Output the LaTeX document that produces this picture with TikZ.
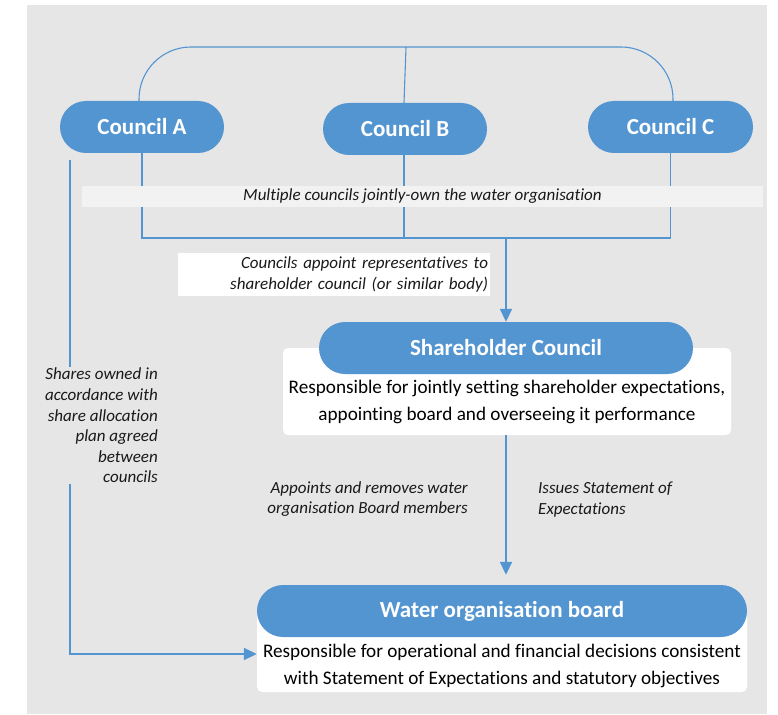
\documentclass[tikz,border=0pt]{standalone}
\usepackage{fontspec}
\setmainfont{Carlito}[RawFeature={-liga}]
\usetikzlibrary{arrows.meta}
\definecolor{cblue}{HTML}{5395D0}
\definecolor{bggrey}{HTML}{E6E6E6}
\definecolor{bannergrey}{HTML}{F2F2F2}
\begin{document}
\begin{tikzpicture}[x=1pt,y=-1pt,
  pill/.style={fill=cblue, text=white, font=\fontsize{23}{27}\selectfont\bfseries, rounded corners=26pt, minimum height=52pt, inner sep=0pt},
  conn/.style={draw=cblue, line width=1.8pt},
  thinconn/.style={draw=cblue, line width=1.1pt},
  arr/.style={conn, -{Triangle[length=13pt,width=12pt]}},
  lbl/.style={font=\fontsize{17}{20.6}\selectfont\itshape, text=black!90, inner sep=0pt},
  body/.style={font=\fontsize{19.2}{27}\selectfont, align=center, inner sep=0pt},
  whitebox/.style={fill=white, rounded corners=5pt, inner sep=0pt}]
\useasboundingbox (0,0) rectangle (778,714);
\fill[bggrey] (27,5) rectangle (767,714);

% councils
\node[pill, minimum width=164pt] (ca) at (142,127) {Council A};
\node[pill, minimum width=164pt] (cb) at (405,129) {Council B};
\node[pill, minimum width=165pt] (cc) at (670.5,127) {Council C};
\coordinate (top) at (406,47);
\coordinate (bus) at (506,238);

\draw[thinconn, rounded corners=52pt] ([xshift=-3pt]ca.north) |- (top) -| ([xshift=2.5pt]cc.north);
\draw[thinconn] ([xshift=-1pt]cb.north) -- (top);

\draw[conn] (ca.south) |- (bus) -| (cc.south);
\draw[conn] ([xshift=-1pt]cb.south) -- ([xshift=-1pt]cb.south |- bus);

% banner
\node[fill=bannergrey, minimum width=681pt, minimum height=21pt, lbl] (banner) at (422.5,196.5) {Multiple councils jointly-own the water organisation};

% appoint label
\node[fill=white, lbl, align=right, text width=308pt, inner xsep=2pt, minimum height=43pt] (appt) at (334,274.5) {Councils appoint representatives to\\shareholder council (or similar body)};

% shareholder council
\node[whitebox, minimum width=448pt, minimum height=87pt] (shcbox) at (507,391.5) {};
\node[pill, minimum width=374pt] (shc) at (506,348) {Shareholder Council};
\node[body] (shct) at (507,402) {Responsible for jointly setting shareholder expectations,\\appointing board and overseeing it performance};
\draw[arr] (bus) -- (shc.north);

% water organisation board
\node[whitebox, minimum width=490pt, minimum height=81pt] (wbox) at (502,651.5) {};
\node[pill, minimum width=490pt] (wob) at (502,611) {Water organisation board};
\node[body] (wobt) at (502,666) {Responsible for operational and financial decisions consistent\\with Statement of Expectations and statutory objectives};

\coordinate (wtop) at ([yshift=10pt]wob.north);
\draw[arr] (shcbox.south -| shc) -- (wtop -| shc);

\node[lbl, align=right, anchor=east] (appl) at (468,499) {Appoints and removes water\\organisation Board members};
\node[lbl, align=left, anchor=west] (issl) at (538,499.5) {Issues Statement of\\Expectations};

% left share line
\node[lbl, align=right, anchor=east] (shares) at (158,425.5) {Shares owned in\\accordance with\\share allocation\\plan agreed\\between\\councils};
\coordinate (lstart) at (70,160);
\coordinate (wleft) at ([yshift=-2.5pt]wbox.west);
\draw[conn] (lstart) -- ([yshift=1pt]lstart |- shares.north);
\draw[arr] ([yshift=-1pt]lstart |- shares.south) |- (wleft);
\end{tikzpicture}
\end{document}
